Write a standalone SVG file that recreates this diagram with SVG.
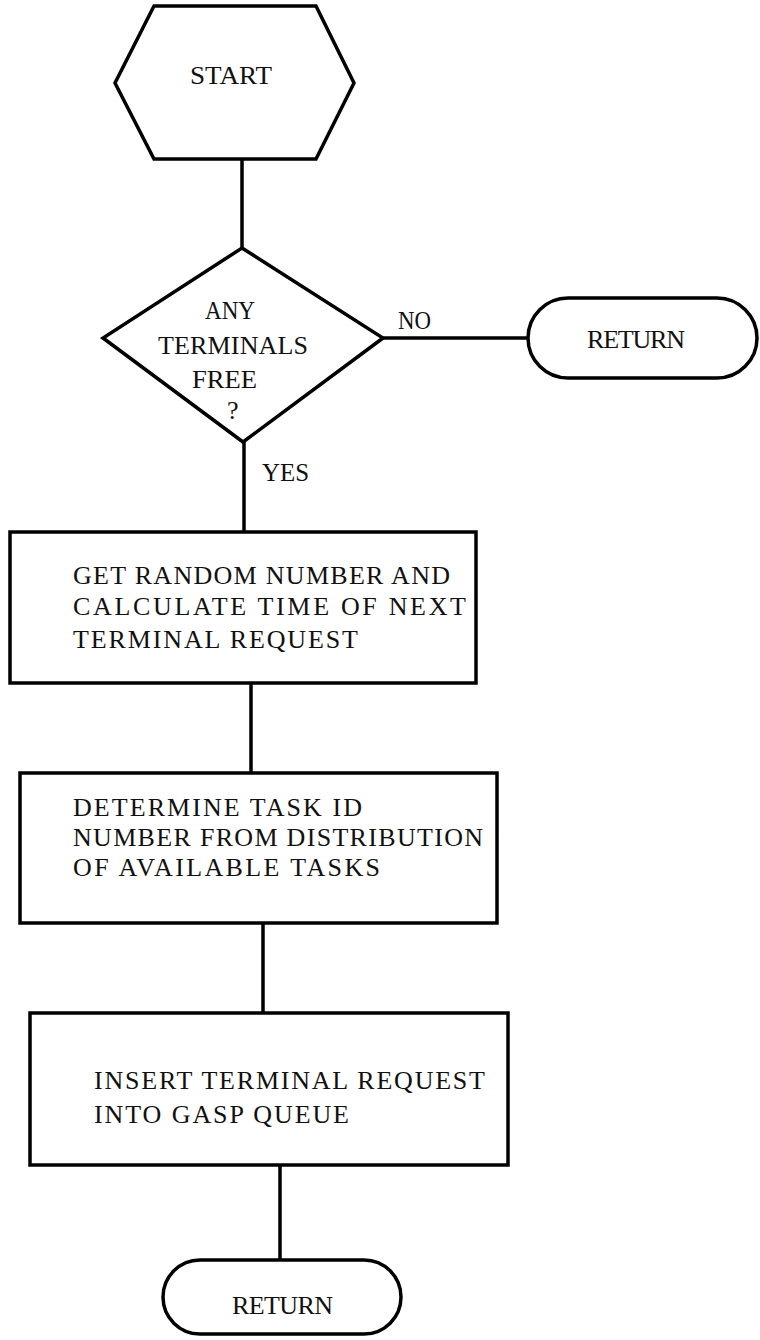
<svg xmlns="http://www.w3.org/2000/svg" width="760" height="1340" viewBox="0 0 760 1340">
  <defs>
    <style>
      .shape { fill: #ffffff; stroke: #000000; stroke-width: 3.5; stroke-linejoin: miter; }
      .edge { fill: none; stroke: #000000; stroke-width: 3.5; }
      .txt { font-family: "Liberation Serif", "Times New Roman", serif; font-size: 26px; fill: #111111; }
    </style>
  </defs>
  <rect x="0" y="0" width="760" height="1340" fill="#ffffff"/>

  <!-- connectors -->
  <g id="connectors">
    <line class="edge" x1="242" y1="159" x2="242" y2="248"/>
    <line class="edge" x1="383" y1="338" x2="528" y2="338"/>
    <line class="edge" x1="244" y1="442" x2="244" y2="532"/>
    <line class="edge" x1="251" y1="683" x2="251" y2="773"/>
    <line class="edge" x1="263" y1="923" x2="263" y2="1013"/>
    <line class="edge" x1="280" y1="1165" x2="280" y2="1260"/>
    <text class="txt" x="398" y="329" textLength="33" lengthAdjust="spacingAndGlyphs">NO</text>
    <text class="txt" x="262" y="481" textLength="47" lengthAdjust="spacingAndGlyphs">YES</text>
  </g>

  <!-- start terminal -->
  <g id="start">
    <polygon class="shape" points="154,6 316,6 354,83 316,159 154,159 115,83"/>
    <text class="txt" x="190" y="84" textLength="82" lengthAdjust="spacingAndGlyphs">START</text>
  </g>

  <!-- decision -->
  <g id="terminals-free">
    <polygon class="shape" points="242,248 383,338 243,442 103,338"/>
    <text class="txt" x="205" y="319" textLength="50" lengthAdjust="spacingAndGlyphs">ANY</text>
    <text class="txt" x="158" y="354" textLength="150" lengthAdjust="spacing">TERMINALS</text>
    <text class="txt" x="192" y="388" textLength="65" lengthAdjust="spacingAndGlyphs">FREE</text>
    <text class="txt" x="227" y="419">?</text>
  </g>

  <!-- early exit -->
  <g id="return-no">
    <rect class="shape" x="528" y="298" width="229" height="80" rx="40" ry="40"/>
    <text class="txt" x="587" y="348" textLength="98" lengthAdjust="spacing">RETURN</text>
  </g>

  <!-- process steps -->
  <g id="next-request">
    <rect class="shape" x="10" y="532" width="466" height="151"/>
    <text class="txt" x="73" y="584" textLength="377" lengthAdjust="spacing">GET RANDOM NUMBER AND</text>
    <text class="txt" x="73" y="615" textLength="393" lengthAdjust="spacing">CALCULATE TIME OF NEXT</text>
    <text class="txt" x="73" y="648" textLength="285" lengthAdjust="spacing">TERMINAL REQUEST</text>
  </g>

  <g id="task-id">
    <rect class="shape" x="20" y="773" width="477" height="150"/>
    <text class="txt" x="73" y="816" textLength="289" lengthAdjust="spacing">DETERMINE TASK ID</text>
    <text class="txt" x="73" y="846" textLength="410" lengthAdjust="spacing">NUMBER FROM DISTRIBUTION</text>
    <text class="txt" x="73" y="876" textLength="307" lengthAdjust="spacing">OF AVAILABLE TASKS</text>
  </g>

  <g id="insert-request">
    <rect class="shape" x="30" y="1013" width="478" height="152"/>
    <text class="txt" x="94" y="1089" textLength="391" lengthAdjust="spacing">INSERT TERMINAL REQUEST</text>
    <text class="txt" x="94" y="1123" textLength="255" lengthAdjust="spacing">INTO GASP QUEUE</text>
  </g>

  <!-- final exit -->
  <g id="return-end">
    <rect class="shape" x="163" y="1260" width="238" height="74" rx="37" ry="37"/>
    <text class="txt" x="232" y="1314" textLength="101" lengthAdjust="spacing">RETURN</text>
  </g>
</svg>
